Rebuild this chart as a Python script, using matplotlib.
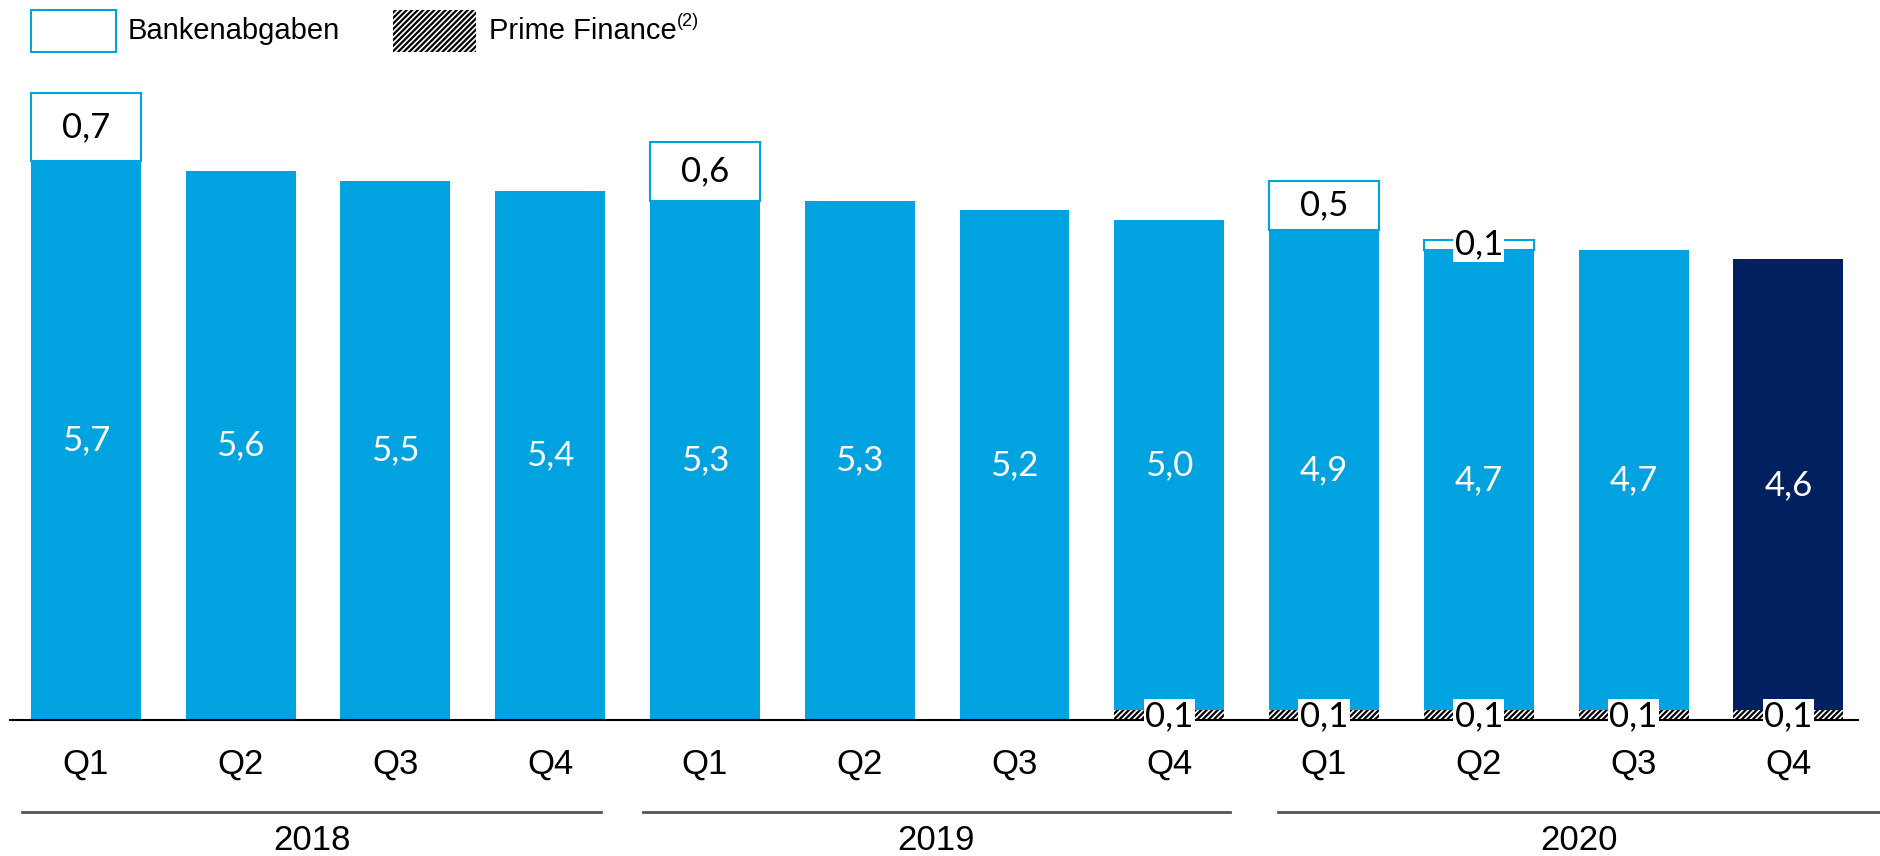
import matplotlib
matplotlib.use('Agg')
import matplotlib.pyplot as plt
from matplotlib.patches import Rectangle
import numpy as np

quarters = ['Q1', 'Q2', 'Q3', 'Q4'] * 3
years = ['2018', '2019', '2020']
main = [5.7, 5.6, 5.5, 5.4, 5.3, 5.3, 5.2, 5.0, 4.9, 4.7, 4.7, 4.6]
banken = [0.7, 0, 0, 0, 0.6, 0, 0, 0, 0.5, 0.1, 0, 0]
prime = [0, 0, 0, 0, 0, 0, 0, 0.1, 0.1, 0.1, 0.1, 0.1]

blue = '#00A3E0'
navy = '#002060'
narrow = ['Liberation Sans Narrow', 'Liberation Sans', 'DejaVu Sans']
valfont = ['Lato', 'DejaVu Sans']

plt.rcParams['hatch.linewidth'] = 1.6

fig = plt.figure(figsize=(18.8, 8.56), dpi=100)
ax = fig.add_axes([10/1880, 136/856, 1848/1880, 640/856])
ax.set_xlim(-0.49, 11.45)
ax.set_ylim(0, 640/98)

x = np.arange(len(main))
w = 0.71
cols = [blue]*11 + [navy]
main_a = np.array(main)
prime_a = np.array(prime)

ax.bar(x, prime_a, w, color='white', edgecolor='black', hatch='//////', linewidth=0)
ax.bar(x, main_a, w, bottom=prime_a, color=cols, linewidth=0)
for i in range(len(x)):
    if banken[i] > 0:
        ax.bar(x[i], banken[i], w, bottom=prime_a[i] + main_a[i], color='white',
               edgecolor=blue, linewidth=1.5)

for i in range(len(x)):
    ax.text(x[i], prime_a[i] + main_a[i]/2, ('%.1f' % main[i]).replace('.', ','),
            ha='center', va='center', color='white', fontsize=25, family=valfont)
    if banken[i] > 0:
        yb = prime_a[i] + main_a[i] + banken[i]/2
        kw = {}
        if banken[i] < 0.3:
            kw['bbox'] = dict(facecolor='white', edgecolor='none', pad=1)
        ax.text(x[i], yb, ('%.1f' % banken[i]).replace('.', ','), ha='center',
                va='center', color='black', fontsize=25, family=valfont, **kw)
    if prime[i] > 0:
        ax.text(x[i], 0.04, ('%.1f' % prime[i]).replace('.', ','), ha='center',
                va='center', color='black', fontsize=25, family=valfont, zorder=5,
                bbox=dict(facecolor='white', edgecolor='none', pad=1))

for s in ['top', 'right', 'left']:
    ax.spines[s].set_visible(False)
ax.spines['bottom'].set_linewidth(1.5)
ax.spines['bottom'].set_zorder(4)
ax.set_xticks([])
ax.set_yticks([])

for i, q in enumerate(quarters):
    ax.text(x[i], -0.45, q, ha='center', va='center', fontsize=25, family=narrow)

spans = [(-0.41, 3.33), (3.6, 7.39), (7.7, 11.6)]
for (a, b), yr in zip(spans, years):
    ax.plot([a, b], [-0.94, -0.94], color='#555555', lw=2, clip_on=False)
    ax.text((a + b)/2, -1.23, yr, ha='center', va='center', fontsize=25, family=narrow)

# legend
fig.patches.append(Rectangle((31/1880, 1 - 52/856), 85/1880, 42/856, transform=fig.transFigure,
                             facecolor='white', edgecolor=blue, lw=1.5))
fig.patches.append(Rectangle((393/1880, 1 - 52/856), 83/1880, 42/856, transform=fig.transFigure,
                             facecolor='white', edgecolor='black', hatch='//////', lw=0))
fig.text(128/1880, 1 - 31/856, 'Bankenabgaben', va='center', fontsize=21, family=narrow)
t = fig.text(489/1880, 1 - 31/856, 'Prime Finance', va='center', fontsize=21, family=narrow)
ax.annotate('(2)', xy=(1.0, 0.55), xycoords=t, va='bottom', ha='left', fontsize=13,
            family=narrow, annotation_clip=False)

fig.savefig('out.png', dpi=100)
